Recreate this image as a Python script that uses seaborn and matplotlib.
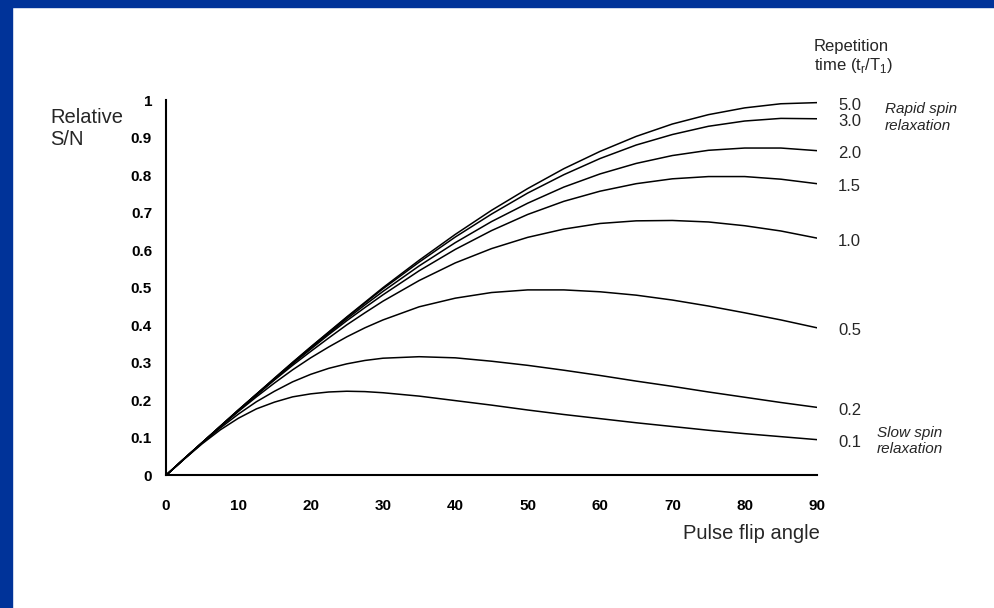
import numpy as np
import pandas as pd
import matplotlib
matplotlib.use("Agg")
import matplotlib.pyplot as plt
from matplotlib.patches import Rectangle
from matplotlib.transforms import offset_copy
import seaborn as sns

# flip angle (degrees) and relative S/N, one list per t_r/T_1
angles = [0, 2.5, 5, 7.5, 10, 12.5, 15, 17.5, 20, 22.5, 25, 27.5, 30,
          35, 40, 45, 50, 55, 60, 65, 70, 75, 80, 85, 90]
tr_labels = ["5.0", "3.0", "2.0", "1.5", "1.0", "0.5", "0.2", "0.1"]

sn_50 = [0, .044, .087, .131, .174, .216, .259, .301, .342, .382, .422, .461, .500,
         .573, .642, .706, .764, .817, .863, .903, .936, .961, .979, .990, .993]
sn_30 = [0, .044, .087, .130, .174, .216, .258, .300, .341, .381, .421, .459, .497,
         .568, .635, .696, .752, .801, .844, .880, .908, .930, .944, .951, .950]
sn_20 = [0, .044, .087, .130, .173, .216, .257, .299, .339, .378, .417, .454, .490,
         .558, .620, .676, .725, .768, .803, .831, .852, .866, .872, .872, .865]
sn_15 = [0, .044, .087, .130, .173, .215, .256, .297, .336, .375, .412, .447, .481,
         .545, .602, .652, .695, .730, .757, .777, .790, .796, .796, .789, .777]
sn_10 = [0, .044, .087, .130, .172, .213, .254, .293, .330, .366, .401, .433, .464,
         .519, .566, .604, .634, .656, .671, .678, .679, .675, .665, .651, .632]
sn_05 = [0, .044, .087, .129, .170, .209, .246, .281, .313, .342, .369, .393, .414,
         .449, .472, .487, .494, .494, .489, .480, .467, .451, .433, .414, .393]
sn_02 = [0, .043, .086, .126, .163, .196, .224, .249, .269, .285, .297, .306, .312,
         .316, .313, .304, .293, .280, .266, .251, .237, .222, .208, .194, .181]
sn_01 = [0, .043, .084, .121, .152, .177, .195, .209, .217, .222, .224, .223, .220,
         .211, .199, .187, .174, .162, .151, .140, .130, .120, .111, .103, .095]

series = [sn_50, sn_30, sn_20, sn_15, sn_10, sn_05, sn_02, sn_01]

y_ticks = [0, 0.1, 0.2, 0.3, 0.4, 0.5, 0.6, 0.7, 0.8, 0.9, 1]
y_tick_labels = ["0", "0.1", "0.2", "0.3", "0.4", "0.5", "0.6", "0.7", "0.8", "0.9", "1"]
x_ticks = [0, 10, 20, 30, 40, 50, 60, 70, 80, 90]

rows = []
for lab, vals in zip(tr_labels, series):
    for a, v in zip(angles, vals):
        rows.append({"angle": a, "sn": v, "tr": lab})
df = pd.DataFrame(rows)

sns.set_theme(style="white")
plt.rcParams["font.family"] = ["Liberation Sans", "DejaVu Sans"]
plt.rcParams["mathtext.fontset"] = "custom"
plt.rcParams["mathtext.rm"] = "Liberation Sans"

W, H = 994, 608
fig = plt.figure(figsize=(W / 100, H / 100), dpi=100, facecolor="white")
ax = fig.add_axes([166 / W, 1 - 475.3 / H, (817 - 166) / W, (475.3 - 100) / H])

# blue slide frame on the left and top
fig.patches.append(Rectangle((0, 0), 12 / W, 1, transform=fig.transFigure, color="#003399", zorder=0))
fig.patches.append(Rectangle((0, 1 - 7 / H), 1, 7 / H, transform=fig.transFigure, color="#003399", zorder=0))

sns.lineplot(data=df, x="angle", y="sn", hue="tr", palette={k: "black" for k in tr_labels},
             legend=False, linewidth=1.1, ax=ax)

ax.set_xlim(0, 90)
ax.set_ylim(0, 1)
ax.set_xticks(x_ticks)
ax.set_xticklabels([str(t) for t in x_ticks], fontsize=11, fontweight="bold")
ax.set_yticks(y_ticks)
ax.set_yticklabels(y_tick_labels, fontsize=11, fontweight="bold")
ax.tick_params(axis="x", direction="out", length=4, width=1, pad=13, colors="black")
ax.tick_params(axis="y", direction="out", length=4, width=1, pad=6, colors="black")
ax.set_xlabel("")
ax.set_ylabel("")
ax.set_facecolor("white")
sns.despine(ax=ax)
for s in ["left", "bottom"]:
    ax.spines[s].set_color("black")
    ax.spines[s].set_linewidth(1.5)

# curve labels at the right end of each line, nudged a little down
lab_tf = offset_copy(ax.transData, fig=fig, x=0, y=-3, units="dots")
for lab, vals in zip(tr_labels, series):
    ax.text(92.9, vals[-1], lab, fontsize=12, va="center", ha="left",
            clip_on=False, transform=lab_tf)

def fx(px):
    return px / W

def fy(py):
    return 1 - py / H

fig.text(fx(50), fy(123), "Relative", fontsize=14.5, va="baseline")
fig.text(fx(50), fy(145), "S/N", fontsize=14.5, va="baseline")
fig.text(fx(814), fy(51), "Repetition", fontsize=12, va="baseline")
fig.text(fx(814), fy(70), r"time (t$_\mathregular{r}$/T$_\mathregular{1}$)", fontsize=12, va="baseline")
fig.text(fx(885), fy(113), "Rapid spin", fontsize=11, style="italic", va="baseline")
fig.text(fx(885), fy(130), "relaxation", fontsize=11, style="italic", va="baseline")
fig.text(fx(877), fy(437), "Slow spin", fontsize=11, style="italic", va="baseline")
fig.text(fx(877), fy(453), "relaxation", fontsize=11, style="italic", va="baseline")
fig.text(fx(820), fy(539), "Pulse flip angle", fontsize=14.5, ha="right", va="baseline")

fig.savefig("out.png", dpi=100, facecolor="white")
